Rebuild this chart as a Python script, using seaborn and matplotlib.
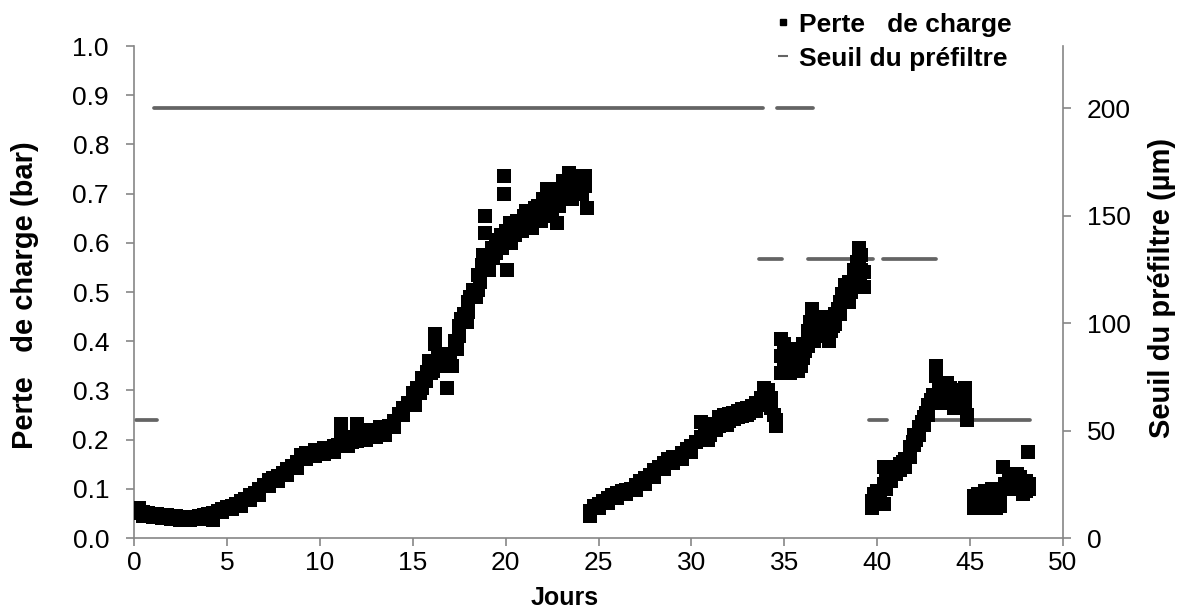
import matplotlib
matplotlib.use("Agg")
import matplotlib.pyplot as plt
from matplotlib.lines import Line2D
import seaborn as sns
import pandas as pd

# ---- data: Perte de charge (bar) vs Jours ----
seg1 = [(0.25,0.060),(0.25,0.050),(0.5,0.052),(0.5,0.045),(0.75,0.050),(1.0,0.048),(1.0,0.043),
        (1.25,0.049),(1.5,0.046),(1.5,0.041),(1.75,0.047),(2.0,0.044),(2.0,0.039),(2.25,0.045),
        (2.5,0.041),(2.5,0.036),(2.75,0.043),(3.0,0.040),(3.0,0.036),(3.25,0.042),(3.5,0.044),
        (3.5,0.039),(3.75,0.047),(4.0,0.049),(4.0,0.044),(4.25,0.050),(4.25,0.036),(4.5,0.054),
        (4.75,0.058),(4.75,0.052),(5.0,0.062),(5.25,0.066),(5.25,0.058),(5.5,0.070),(5.75,0.076),
        (5.75,0.066),(6.0,0.080),(6.25,0.088),(6.25,0.078),(6.5,0.092),(6.75,0.100),(6.75,0.088),
        (7.0,0.108),(7.25,0.118),(7.25,0.105),(7.5,0.122),(7.75,0.126),(7.75,0.115),(8.0,0.132),
        (8.25,0.140),(8.25,0.128),(8.5,0.146),(8.75,0.155),(8.75,0.142),(9.0,0.168),(9.25,0.172),
        (9.25,0.160),(9.5,0.170),(9.75,0.178),(9.75,0.166),(10.0,0.176),(10.25,0.182),(10.25,0.170),
        (10.5,0.178),(10.75,0.186),(10.75,0.175),(11.0,0.190),(11.15,0.232),(11.15,0.215),
        (11.3,0.200),(11.5,0.188),(11.75,0.205),(11.75,0.196),(12.0,0.232),(12.0,0.198),
        (12.25,0.205),(12.5,0.212),(12.5,0.200),(12.75,0.220),(13.0,0.215),(13.0,0.205),
        (13.25,0.225),(13.5,0.218),(13.5,0.210),(13.75,0.228),(14.0,0.238),(14.0,0.225),
        (14.25,0.252),(14.5,0.265),(14.5,0.250),(14.75,0.275),(15.0,0.295),(15.0,0.280),
        (15.25,0.305),(15.5,0.325),(15.5,0.305),(15.75,0.338),(16.0,0.350),(16.0,0.335),
        (16.2,0.415),(16.2,0.395),(16.35,0.375),(16.5,0.365),(16.5,0.350),(16.75,0.355),
        (16.85,0.305),(17.0,0.375),(17.0,0.360),(17.25,0.400),(17.5,0.430),(17.5,0.410),
        (17.75,0.455),(18.0,0.480),(18.0,0.460),(18.25,0.505),(18.5,0.535),(18.5,0.505),
        (18.75,0.555),(18.9,0.655),(18.9,0.620),(19.0,0.575),(19.0,0.555),(19.25,0.590),
        (19.5,0.605),(19.5,0.580),(19.75,0.615),(19.9,0.735),(19.9,0.700),(20.0,0.625),
        (20.0,0.600),(20.1,0.545),(20.25,0.620),(20.25,0.640),(20.5,0.630),(20.5,0.615),
        (20.75,0.645),(21.0,0.655),(21.0,0.635),(21.25,0.665),(21.25,0.645),(21.5,0.650),
        (21.75,0.675),(21.75,0.655),(22.0,0.690),(22.0,0.665),(22.25,0.710),(22.25,0.680),
        (22.5,0.660),(22.5,0.700),(22.75,0.695),(22.75,0.640),(23.0,0.710),(23.0,0.690),
        (23.25,0.720),(23.25,0.700),(23.4,0.742),(23.5,0.705),(23.5,0.715),(23.75,0.725),
        (23.75,0.700),(24.0,0.728),(24.0,0.710),(24.25,0.735),(24.25,0.715),(24.4,0.670),
        (15.1,0.270),(15.4,0.295),(15.7,0.320),(15.9,0.360),(16.1,0.340),(16.6,0.375),
        (17.1,0.350),(17.4,0.385),(17.6,0.445),(17.9,0.440),(18.1,0.490),(18.4,0.490),
        (18.6,0.520),(18.8,0.575),(19.1,0.545),(19.3,0.570),(19.6,0.600),(19.8,0.590),
        (20.3,0.600),(20.6,0.645),(20.9,0.625),(21.1,0.665),(21.4,0.630),(21.6,0.670),
        (21.9,0.645),(22.1,0.655),(22.4,0.690),(22.6,0.680),(22.9,0.675),(23.1,0.725),
        (23.6,0.690),(23.9,0.735),(24.1,0.700),(24.3,0.725)]

seg2 = [(24.55,0.055),(24.55,0.045),(24.75,0.065),(25.0,0.070),(25.0,0.060),(25.25,0.075),
        (25.5,0.082),(25.5,0.072),(25.75,0.088),(26.0,0.092),(26.0,0.082),(26.25,0.095),
        (26.5,0.098),(26.5,0.090),(26.75,0.100),(27.0,0.108),(27.0,0.098),(27.25,0.115),
        (27.5,0.122),(27.5,0.110),(27.75,0.128),(28.0,0.138),(28.0,0.125),(28.25,0.145),
        (28.5,0.152),(28.5,0.140),(28.75,0.160),(29.0,0.165),(29.0,0.152),(29.25,0.162),
        (29.5,0.172),(29.5,0.160),(29.75,0.180),(30.0,0.188),(30.0,0.175),(30.25,0.195),
        (30.5,0.235),(30.5,0.205),(30.75,0.215),(31.0,0.225),(31.0,0.210),(31.25,0.232),
        (31.5,0.245),(31.5,0.228),(31.75,0.250),(32.0,0.252),(32.0,0.238),(32.25,0.255),
        (32.5,0.258),(32.5,0.245),(32.75,0.262),(33.0,0.265),(33.0,0.250),(33.25,0.268),
        (33.5,0.275),(33.5,0.258),(33.75,0.285),(33.9,0.305),(33.9,0.290),(34.1,0.300),
        (34.1,0.280),(34.3,0.285),(34.3,0.265),(34.45,0.250),(34.55,0.228),(34.55,0.240),
        (34.8,0.405),(34.8,0.370),(34.8,0.335),(35.0,0.395),(35.0,0.360),(35.25,0.380),
        (35.25,0.350),(35.5,0.370),(35.5,0.345),(35.75,0.385),(35.75,0.340),(36.0,0.395),
        (36.0,0.365),(36.25,0.420),(36.25,0.390),(36.5,0.465),(36.5,0.420),(36.75,0.440),
        (36.75,0.410),(37.0,0.450),(37.0,0.420),(37.25,0.445),(37.25,0.425),(37.4,0.400),
        (37.5,0.440),(37.5,0.420),(37.75,0.455),(37.75,0.435),(38.0,0.480),(38.0,0.455),
        (38.25,0.515),(38.25,0.485),(38.5,0.520),(38.5,0.480),(38.75,0.545),(38.75,0.525),
        (39.0,0.590),(39.0,0.560),(39.15,0.575),(39.15,0.545),(39.3,0.540),(39.3,0.510),
        (30.9,0.200),(31.3,0.220),(31.6,0.238),(31.9,0.230),(32.3,0.242),(32.7,0.248),
        (33.1,0.255),(33.4,0.262),(33.7,0.270),(34.0,0.270),(35.1,0.380),(35.3,0.335),
        (35.6,0.360),(35.9,0.350),(36.1,0.380),(36.4,0.440),(36.6,0.400),(36.9,0.430),
        (37.1,0.435),(37.6,0.430),(37.9,0.465),(38.1,0.495),(38.4,0.505),(38.6,0.500),
        (38.9,0.560),(39.1,0.530)]

seg3 = [(39.7,0.060),(39.7,0.075),(39.85,0.090),(39.85,0.080),(40.0,0.095),(40.0,0.085),
        (40.15,0.092),(40.15,0.070),(40.35,0.110),(40.35,0.145),(40.35,0.070),(40.5,0.115),
        (40.5,0.100),(40.75,0.130),(40.75,0.115),(41.0,0.145),(41.0,0.130),(41.25,0.150),
        (41.25,0.138),(41.5,0.160),(41.5,0.145),(41.75,0.185),(41.75,0.165),(42.0,0.210),
        (42.0,0.190),(42.25,0.225),(42.25,0.210),(42.5,0.245),(42.5,0.230),(42.75,0.270),
        (42.75,0.250),(43.0,0.290),(43.0,0.275),(43.15,0.350),(43.15,0.330),(43.3,0.310),
        (43.3,0.295),(43.5,0.305),(43.5,0.285),(43.75,0.315),(43.75,0.295),(44.0,0.300),
        (44.0,0.275),(44.15,0.265),(44.75,0.305),(44.75,0.285),(44.75,0.265),(44.85,0.250),
        (44.85,0.240),(41.1,0.140),(41.4,0.155),(41.9,0.195),(42.1,0.200),(42.4,0.235),
        (42.6,0.255),(42.9,0.280),(43.6,0.275),(43.9,0.305),(44.1,0.285)]

seg4 = [(45.2,0.085),(45.2,0.060),(45.4,0.070),(45.4,0.090),(45.6,0.080),(45.6,0.060),
        (45.8,0.095),(45.8,0.075),(46.0,0.085),(46.0,0.060),(46.2,0.100),(46.2,0.070),
        (46.4,0.080),(46.4,0.060),(46.6,0.080),(46.6,0.065),(46.75,0.145),(46.9,0.110),
        (46.9,0.100),(47.1,0.105),(47.1,0.115),(47.3,0.120),(47.3,0.105),(47.5,0.130),
        (47.5,0.115),(47.7,0.125),(47.7,0.110),(47.85,0.100),(47.85,0.090),(48.0,0.115),
        (48.0,0.095),(48.1,0.175),(48.15,0.110),(48.15,0.100),(45.3,0.075),(45.7,0.085),
        (46.1,0.075),(46.5,0.090),(47.2,0.125),(47.4,0.100),(47.6,0.120),(47.9,0.105)]

# ---- data: Seuil du préfiltre (µm), constant segments ----
seuil_start = [0.1, 1.05, 34.6, 33.65, 36.3, 40.3, 39.55, 42.95]
seuil_end   = [1.25, 33.85, 36.55, 34.9, 39.75, 43.15, 40.55, 48.25]
seuil_value = [55, 200, 200, 130, 130, 130, 55, 55]

pts = seg1 + seg2 + seg3 + seg4
df = pd.DataFrame(pts, columns=["Jours", "Perte"])

rows = []
for i, (s, e, v) in enumerate(zip(seuil_start, seuil_end, seuil_value)):
    rows.append((i, s, v))
    rows.append((i, e, v))
dfs = pd.DataFrame(rows, columns=["seg", "Jours", "Seuil"])

sns.set_theme(style="white")
plt.rcParams["font.family"] = ["Liberation Sans", "DejaVu Sans"]
plt.rcParams["text.color"] = "black"
plt.rcParams["axes.labelcolor"] = "black"

fig = plt.figure(figsize=(11.84, 6.13), dpi=100)
ax = fig.add_axes([134/1184, 1-538/613, (1063-134)/1184, (538-46)/613])
ax2 = ax.twinx()

sns.lineplot(data=dfs, x="Jours", y="Seuil", units="seg", estimator=None,
             color="#646464", lw=2.7, ax=ax2, legend=False)
for l in ax2.lines:
    l.set_solid_capstyle("round")
sns.scatterplot(data=df, x="Jours", y="Perte", marker="s", s=95, color="black",
                edgecolor="black", linewidth=0, ax=ax, legend=False, zorder=3)
ax.set_zorder(ax2.get_zorder() + 1)
ax.patch.set_visible(False)

ax.set_xlim(0, 50)
ax.set_ylim(0, 1.0)
ax2.set_ylim(0, 229)
ax.set_xticks(range(0, 51, 5))
ax.set_yticks([i/10 for i in range(11)])
ax.set_yticklabels([f"{i/10:.1f}" for i in range(11)])
ax2.set_yticks([0, 50, 100, 150, 200])

grey = "#868686"
for a in (ax, ax2):
    for side in a.spines:
        a.spines[side].set_color(grey)
        a.spines[side].set_linewidth(1.2)
    a.spines["top"].set_visible(False)
ax.spines["right"].set_visible(False)
ax2.spines["left"].set_visible(False)
ax2.spines["bottom"].set_visible(False)

ax.tick_params(axis="y", direction="out", length=6, width=1.2, color=grey,
               labelsize=19, labelcolor="black", left=True, pad=12)
ax.tick_params(axis="x", direction="out", length=6, width=1.2, color=grey,
               labelsize=19, labelcolor="black", bottom=True, pad=3)
ax2.tick_params(axis="y", direction="out", length=6, width=1.2, color=grey,
                labelsize=19, labelcolor="black", right=True, pad=11)
ax.set_xlabel("")
ax.set_ylabel("")
ax2.set_ylabel("")

fig.text(565/1184, 1-598/613, "Jours", fontsize=18, fontweight="bold",
         ha="center", va="center")
fig.text(25/1184, 1-295/613, "Perte   de charge (bar)", fontsize=21, fontweight="bold",
         ha="center", va="center", rotation=90)
fig.text(1162/1184, 1-288/613, "Seuil du préfiltre (µm)", fontsize=21, fontweight="bold",
         ha="center", va="center", rotation=90)

handles = [Line2D([], [], marker="s", color="black", ls="none", markersize=5),
           Line2D([], [], marker="_", color="#646464", ls="none", markersize=7, mew=1.5)]
fig.legend(handles, ["Perte   de charge", "Seuil du préfiltre"], loc="upper left",
           bbox_to_anchor=(765/1184, 1-2/613), frameon=False,
           prop={"weight": "bold", "size": 19}, handlelength=0.6, handletextpad=0.3,
           labelspacing=0.38, borderaxespad=0)

fig.savefig("out.png", dpi=100)
